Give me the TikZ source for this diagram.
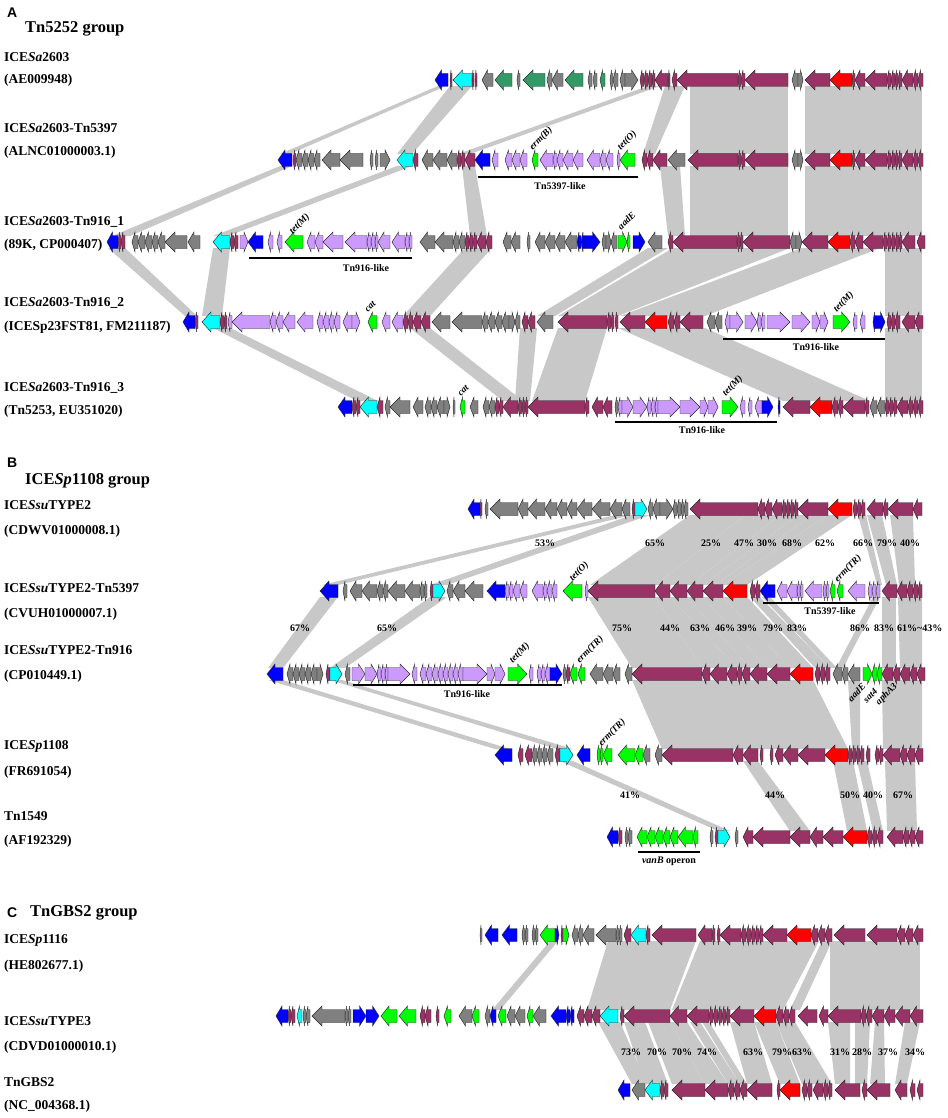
\documentclass[tikz,border=0pt]{standalone}
\usepackage{fontspec}
\setmainfont{Liberation Serif}
\setsansfont{Liberation Sans}
\definecolor{cM}{HTML}{993366}
\definecolor{cG}{HTML}{808080}
\definecolor{cB}{HTML}{0000FF}
\definecolor{cC}{HTML}{00FFFF}
\definecolor{cR}{HTML}{FF0000}
\definecolor{cL}{HTML}{CC99FF}
\definecolor{cE}{HTML}{00FF00}
\definecolor{cD}{HTML}{339966}
\definecolor{bandc}{HTML}{C8C8C8}
\tikzset{
  gene/.style={draw=black!85,line width=0.45pt,line join=miter},
  lab/.style={anchor=west,inner sep=0pt,font=\bfseries\fontsize{13.5}{14}\selectfont},
  grp/.style={anchor=west,inner sep=0pt,font=\bfseries\fontsize{16.5}{17}\selectfont},
  letter/.style={anchor=west,inner sep=0pt,font=\sffamily\bfseries\fontsize{14}{14}\selectfont},
  pct/.style={inner sep=0pt,font=\bfseries\fontsize{10}{10}\selectfont},
  glab/.style={anchor=west,inner sep=0pt,rotate=45,font=\bfseries\itshape\fontsize{9.5}{9.5}\selectfont},
  glabr/.style={anchor=east,inner sep=0pt,rotate=45,font=\bfseries\itshape\fontsize{9.5}{9.5}\selectfont},
  barline/.style={line width=1.3pt,black},
  barlab/.style={inner sep=0pt,font=\bfseries\fontsize{10}{10}\selectfont}
}
\newcommand\gene[5]{%
  \pgfmathsetmacro\hl{min(10,0.5*(#2-#1))}%
  \if#5l%
    \filldraw[gene,fill=c#4] (#2,#3-6.5) -- ({#1+\hl},#3-6.5) -- ({#1+\hl},#3-10) -- (#1,#3) -- ({#1+\hl},#3+10) -- ({#1+\hl},#3+6.5) -- (#2,#3+6.5) -- cycle;
  \else
    \filldraw[gene,fill=c#4] (#1,#3-6.5) -- ({#2-\hl},#3-6.5) -- ({#2-\hl},#3-10) -- (#2,#3) -- ({#2-\hl},#3+10) -- ({#2-\hl},#3+6.5) -- (#1,#3+6.5) -- cycle;
  \fi}
\newcommand\trk[2]{\foreach \a/\b/\c/\d in {#2}{\gene{\a}{\b}{#1}{\c}{\d}}}
\newcommand\bands[3]{\foreach \a/\b/\c/\d in {#3}{\fill[bandc] (\a,#1+6) -- (\b,#1+6) -- (\d,#2-6) -- (\c,#2-6) -- cycle;}}
\begin{document}
\begin{tikzpicture}[x=1pt,y=-1pt]
\useasboundingbox (0,0) rectangle (947,1118);
\fill[white] (0,0) rectangle (947,1118);
% ---------------- bands ----------------
\bands{80}{160}{438/446/280/290, 450/472/397/412, 648/660/458/470, 665/685/643/655, 690/788/690/788, 805/922/805/922}
\bands{160}{242}{280/292/112/130, 397/412/213/228, 462/475/470/487, 660/680/668/685, 690/788/690/788, 805/922/805/922}
\bands{242}{322}{108/125/185/197, 213/230/202/222, 465/492/403/430, 648/668/537/555, 673/790/558/618, 802/880/620/705, 885/922/885/922}
\bands{322}{407}{213/230/357/378, 410/430/503/523, 520/537/515/530, 558/607/532/585, 618/705/783/870, 885/922/885/922}
\bands{509}{591}{615/632/322/338, 632/650/430/447, 690/745/590/655, 745/780/655/690, 780/798/690/703, 798/812/703/715, 812/828/715/723, 828/852/723/747, 858/866/877/882, 867/882/886/897, 890/913/899/915}
\bands{591}{674}{320/338/268/283, 430/447/330/345, 588/655/632/702, 655/670/702/737, 670/687/737/750, 687/703/750/767, 703/723/767/790, 723/747/790/813, 750/760/815/830, 762/770/830/837, 873/880/836/843, 882/896/882/896, 898/922/900/922}
\bands{674}{755}{268/283/495/510, 330/342/557/573, 632/813/662/848, 848/860/852/860, 882/922/883/922}
\bands{755}{837}{560/573/718/730, 743/758/790/810, 833/853/847/867, 857/867/873/883, 885/915/887/917}
\bands{935}{1016}{550/558/492/500, 608/696/587/670, 700/819/672/783, 822/832/790/800, 830/920/830/920}
\bands{1016}{1090}{598/620/632/647, 624/645/645/668, 648/670/672/705, 670/687/705/728, 690/700/728/740, 702/709/740/747, 730/754/747/772, 754/776/780/800, 776/795/802/832, 828/850/835/850, 855/870/855/867, 875/884/870/885, 905/920/895/907}
% ---------------- tracks A ----------------
\trk{80}{435/448/B/l, 450/452/M/l, 453/472/C/l, 472/474/M/l, 475/477/M/l, 482/493/G/l, 495/512/D/l, 517/520/G/l, 523/545/D/l, 547/552/G/l, 552/563/G/l, 565/583/D/l, 588/592/G/l, 593/597/G/l, 600/605/D/l, 610/613/G/l, 613/618/G/l, 620/625/G/l, 625/638/G/r, 640/644/M/l, 644/648/M/l, 648/652/M/l, 652/655/M/l, 655/668/M/l, 668/670/M/l, 672/677/M/l, 677/738/M/l, 738/741/M/l, 741/745/M/l, 745/788/M/l, 792/798/G/l, 798/803/G/r, 805/830/M/l, 830/852/R/l, 852/855/M/l, 855/865/M/l, 865/887/M/l, 887/891/M/l, 891/895/M/l, 895/898/M/l, 898/902/M/l, 902/913/M/l, 913/918/M/l, 918/923/M/l}
\trk{160}{278/292/B/l, 293/296/M/l, 296/302/G/l, 302/308/G/l, 308/314/G/l, 314/320/G/l, 322/340/G/l, 340/363/G/l, 370/373/G/l, 375/378/G/l, 380/390/G/r, 397/413/C/l, 413/418/M/l, 422/433/G/l, 433/447/G/l, 447/457/G/l, 457/461/M/l, 461/465/M/l, 465/475/M/l, 475/490/B/l, 492/498/L/l, 505/512/L/l, 512/520/L/l, 520/527/L/l, 532/538/E/l, 540/553/L/l, 553/557/L/l, 557/563/L/l, 563/573/L/l, 573/583/L/l, 587/600/L/l, 600/606/L/l, 606/613/L/l, 617/620/L/l, 620/635/E/l, 642/647/M/l, 647/653/M/l, 653/667/M/l, 668/685/G/l, 688/738/M/l, 738/741/M/l, 741/745/M/l, 745/788/M/l, 792/798/G/l, 798/803/G/r, 805/830/M/l, 830/852/R/l, 852/855/M/l, 855/865/M/l, 865/887/M/l, 887/891/M/l, 891/895/M/l, 895/898/M/l, 898/902/M/l, 902/913/M/l, 913/918/M/l, 918/923/M/l}
\trk{242}{107/118/B/l, 118/121/M/l, 121/125/M/l, 132/138/G/l, 138/145/G/l, 145/152/G/l, 152/158/G/l, 158/165/G/l, 165/187/G/l, 188/200/G/l, 213/230/C/l, 230/234/M/l, 234/238/M/l, 240/248/L/r, 248/263/B/l, 268/273/L/l, 277/282/L/l, 285/303/E/l, 307/315/L/l, 315/323/L/l, 323/343/L/l, 345/367/L/l, 367/371/L/l, 371/375/L/l, 375/378/L/l, 378/390/L/l, 392/405/L/l, 405/409/L/l, 409/412/L/l, 420/435/G/l, 435/453/G/l, 453/459/G/l, 459/465/G/l, 465/469/M/l, 469/473/M/l, 473/477/M/l, 477/486/M/l, 486/492/M/l, 503/511/G/l, 511/520/G/l, 527/530/G/l, 535/545/G/l, 545/555/G/l, 555/565/G/l, 565/577/G/l, 577/581/B/l, 581/585/B/l, 585/600/B/r, 602/606/G/l, 606/611/G/r, 611/617/G/l, 618/627/E/r, 627/630/E/l, 633/645/B/r, 648/662/G/l, 668/673/M/l, 673/737/M/l, 737/740/M/l, 740/743/M/l, 743/790/M/l, 790/796/G/l, 796/802/G/r, 802/828/M/l, 828/850/R/l, 850/855/M/l, 855/863/M/l, 863/883/M/l, 883/887/M/l, 887/891/M/l, 891/895/M/l, 895/899/M/l, 899/902/M/l, 902/915/M/l, 917/925/M/l}
\trk{322}{183/195/B/l, 195/198/M/l, 202/220/C/l, 220/224/M/l, 224/227/M/l, 228/232/L/l, 232/270/L/l, 270/276/L/l, 276/283/L/l, 283/295/L/l, 297/313/L/l, 317/323/L/l, 323/329/L/l, 329/334/L/l, 334/340/L/l, 343/352/L/l, 352/360/L/r, 368/377/E/l, 382/390/L/l, 392/403/L/l, 403/408/M/l, 408/413/M/l, 413/421/M/l, 421/430/M/l, 432/450/G/l, 452/482/G/l, 482/488/G/l, 488/495/G/l, 495/502/G/l, 502/509/G/l, 509/515/G/r, 515/520/G/l, 522/528/M/l, 528/535/M/l, 537/553/G/l, 558/607/M/l, 607/611/M/l, 611/614/M/l, 615/618/M/l, 620/645/M/l, 645/667/R/l, 668/674/M/l, 674/680/M/l, 680/703/M/l, 707/715/G/l, 715/722/G/l, 725/730/L/l, 730/743/L/r, 745/757/L/r, 757/761/L/l, 761/765/L/l, 767/790/L/r, 792/810/L/r, 812/820/L/r, 820/828/L/r, 833/850/E/r, 853/857/L/l, 860/865/L/l, 873/876/B/l, 876/885/B/r, 887/891/M/l, 891/895/M/l, 895/900/M/l, 902/915/M/l, 915/923/M/l}
\trk{407}{338/352/B/l, 352/356/M/l, 356/360/M/l, 360/377/C/l, 377/383/M/l, 385/390/G/l, 390/410/G/l, 413/423/G/l, 425/431/G/l, 431/437/G/l, 437/444/G/l, 444/450/G/r, 453/455/G/l, 460/465/E/l, 470/478/G/l, 483/489/G/l, 489/495/G/l, 495/499/M/l, 499/503/M/l, 503/518/M/l, 518/522/M/l, 522/525/M/l, 525/528/M/l, 528/585/M/l, 585/589/M/l, 592/603/M/l, 603/612/M/l, 615/618/G/l, 618/622/L/l, 622/633/L/r, 633/647/L/r, 647/651/L/l, 651/655/L/l, 655/658/L/l, 658/680/L/r, 680/700/L/r, 700/708/L/r, 708/718/L/r, 722/738/E/r, 740/745/L/l, 748/752/L/l, 755/762/L/l, 762/773/B/r, 778/780/B/l, 783/810/M/l, 810/832/R/l, 832/838/M/l, 838/843/M/l, 843/865/M/l, 865/869/M/l, 870/877/G/l, 877/885/G/l, 885/889/M/l, 889/893/M/l, 893/897/M/l, 897/908/M/l, 908/913/M/l, 913/918/M/l, 918/923/M/l}
% ---------------- tracks B ----------------
\trk{509}{468/480/B/l, 480/482/M/l, 485/488/G/l, 490/518/G/l, 518/528/G/l, 528/545/G/l, 545/557/G/l, 557/567/G/l, 567/577/G/l, 577/592/G/l, 592/610/G/l, 610/622/G/l, 622/630/G/l, 632/635/M/l, 635/647/C/r, 648/653/G/l, 653/660/G/l, 660/673/G/r, 673/677/G/l, 677/681/G/l, 681/684/G/l, 684/688/G/l, 690/758/M/l, 758/765/M/l, 765/772/M/l, 772/782/M/l, 782/786/M/l, 786/790/M/l, 790/794/M/l, 794/798/M/l, 798/828/M/l, 828/852/R/l, 853/857/M/l, 857/861/M/l, 861/865/M/l, 867/883/M/l, 883/888/M/l, 888/913/M/l, 913/922/M/l}
\trk{591}{320/338/B/l, 343/347/G/l, 350/362/G/l, 362/377/G/l, 377/383/G/l, 383/388/G/l, 388/405/G/l, 405/420/G/l, 420/424/G/l, 424/427/G/l, 430/433/M/l, 433/445/C/r, 447/453/G/l, 453/465/G/l, 465/483/G/l, 487/505/B/l, 505/509/L/l, 509/513/L/l, 513/520/L/l, 520/527/L/l, 532/543/L/l, 543/547/L/l, 547/552/L/l, 552/557/L/l, 563/582/E/l, 585/588/L/l, 588/655/M/l, 655/670/M/l, 670/687/M/l, 687/703/M/l, 703/723/M/l, 723/747/R/l, 750/755/M/l, 755/760/M/l, 760/775/B/l, 777/787/L/l, 787/797/L/l, 797/800/L/l, 800/803/L/l, 805/822/L/l, 823/826/L/l, 826/829/L/l, 830/835/E/l, 837/843/E/l, 848/865/L/l, 868/872/L/l, 872/876/L/l, 876/880/L/l, 882/897/M/l, 897/907/M/l, 907/913/M/l, 913/918/M/l, 918/922/M/l}
\trk{674}{267/283/B/l, 287/293/G/l, 293/299/G/l, 299/305/G/l, 305/311/G/l, 311/317/G/l, 317/323/G/r, 326/330/M/l, 330/342/C/r, 345/350/G/l, 352/365/L/r, 365/377/L/r, 377/381/L/l, 381/385/L/l, 385/388/L/l, 388/410/L/r, 412/417/L/l, 420/426/L/l, 426/432/L/l, 432/438/L/l, 438/443/L/l, 443/448/L/l, 448/453/L/l, 453/458/L/l, 458/463/L/l, 463/487/L/r, 487/495/L/r, 495/505/L/r, 508/527/E/r, 529/533/L/l, 537/541/L/l, 541/545/L/l, 545/550/L/l, 550/562/B/r, 563/566/G/l, 566/570/M/l, 570/577/E/l, 578/585/E/l, 590/603/G/l, 603/613/G/l, 613/620/G/l, 625/632/G/l, 632/702/M/l, 702/710/M/l, 710/727/M/l, 727/737/M/l, 737/742/M/l, 742/750/M/l, 750/767/M/l, 767/790/M/l, 790/813/R/l, 815/820/M/l, 820/825/M/l, 825/830/M/l, 833/842/G/l, 842/848/G/l, 848/860/G/l, 863/872/E/r, 872/877/E/l, 877/882/E/l, 882/893/M/l, 893/900/M/l, 900/910/M/l, 910/917/M/l, 917/925/M/l}
\trk{755}{495/512/B/l, 518/523/M/l, 525/532/M/l, 532/537/G/l, 537/542/G/l, 542/547/G/l, 547/553/G/l, 555/560/M/l, 560/573/C/r, 577/590/B/l, 597/600/E/l, 600/603/E/l, 603/612/E/l, 618/635/E/l, 635/643/E/l, 643/650/G/l, 655/662/G/l, 662/733/M/l, 733/743/M/l, 743/758/M/l, 760/763/M/l, 770/773/M/l, 775/783/M/l, 783/798/M/l, 798/825/M/l, 825/848/R/l, 848/852/M/l, 852/856/M/l, 856/860/M/l, 860/864/M/l, 866/870/M/l, 875/879/M/l, 879/883/M/l, 883/900/M/l, 900/907/M/l, 907/915/M/l, 915/923/M/l}
\trk{837}{607/618/B/l, 618/622/M/l, 625/628/G/l, 628/632/G/l, 637/647/E/l, 647/655/E/l, 655/663/E/l, 663/670/E/l, 670/678/E/l, 678/693/E/l, 693/698/E/l, 710/713/G/l, 715/718/M/l, 718/730/C/r, 735/738/G/l, 743/753/M/l, 753/790/M/l, 790/810/M/l, 810/823/M/l, 823/843/M/l, 843/867/R/l, 867/872/M/l, 872/877/M/l, 877/883/M/l, 887/903/M/l, 903/909/M/l, 909/915/M/l, 915/923/M/l}
% ---------------- tracks C ----------------
\trk{935}{480/482/G/l, 485/498/B/l, 502/517/B/l, 522/525/G/l, 525/528/G/l, 532/535/G/l, 535/538/G/l, 540/555/E/l, 555/559/B/r, 561/563/M/l, 563/569/E/r, 572/578/G/l, 578/583/G/l, 583/594/G/l, 596/616/G/l, 616/619/G/l, 619/622/G/l, 624/631/M/l, 631/646/C/l, 646/650/M/l, 652/696/M/l, 698/712/M/l, 712/715/M/l, 717/720/M/l, 720/741/M/l, 741/746/M/l, 746/751/M/l, 751/755/M/l, 755/759/M/l, 759/763/M/l, 763/787/M/l, 787/811/R/l, 811/818/M/l, 818/825/M/l, 825/832/M/l, 834/865/M/l, 867/897/M/l, 897/905/M/l, 905/913/M/l, 913/923/M/l}
\trk{1016}{276/288/B/l, 288/291/M/l, 291/295/M/l, 297/302/C/l, 303/306/G/l, 306/310/G/l, 312/345/G/l, 345/348/G/l, 348/351/G/l, 353/366/B/r, 366/379/B/r, 381/397/E/l, 399/416/E/l, 420/425/M/l, 425/431/M/l, 436/439/M/l, 444/451/E/l, 459/472/G/l, 472/479/E/l, 485/490/G/l, 490/496/B/l, 498/506/E/l, 507/515/G/l, 515/525/G/l, 527/533/E/l, 533/546/G/l, 551/566/B/l, 566/570/B/l, 570/574/B/l, 577/584/M/l, 584/592/M/l, 592/600/M/l, 600/618/C/l, 620/624/M/l, 624/670/M/l, 670/687/M/l, 687/709/M/l, 709/713/M/l, 713/718/M/l, 718/722/M/l, 722/726/M/l, 726/730/M/l, 730/754/M/l, 754/776/R/l, 776/783/M/l, 783/789/M/l, 789/795/M/l, 798/817/M/l, 819/828/M/l, 828/861/M/l, 861/866/M/l, 866/872/M/l, 872/884/M/l, 884/895/M/l, 895/910/M/l, 910/923/M/l}
\trk{1090}{618/630/B/l, 632/645/G/l, 645/660/C/l, 660/664/M/l, 664/668/M/l, 672/705/M/l, 705/728/M/l, 728/734/M/l, 734/740/M/l, 740/747/M/l, 747/772/M/l, 777/780/M/l, 780/800/R/l, 802/807/M/l, 807/812/M/l, 813/823/M/l, 823/828/M/l, 828/832/M/l, 835/860/M/l, 862/867/M/l, 867/890/M/l, 895/907/M/l, 910/915/M/l, 917/923/M/l}
% ---------------- bars ----------------
\coordinate (b1a) at (478,177); \coordinate (b1b) at (638,177);
\draw[barline] (b1a) -- (b1b);
\node[barlab] (bl1) at (560,186) {Tn5397-like};
\coordinate (b2a) at (249,258); \coordinate (b2b) at (412,258);
\draw[barline] (b2a) -- (b2b);
\node[barlab] (bl2) at (366,268) {Tn916-like};
\coordinate (b3a) at (723,339); \coordinate (b3b) at (885,339);
\draw[barline] (b3a) -- (b3b);
\node[barlab] (bl3) at (816,347) {Tn916-like};
\coordinate (b4a) at (615,422); \coordinate (b4b) at (777,422);
\draw[barline] (b4a) -- (b4b);
\node[barlab] (bl4) at (702,430) {Tn916-like};
\coordinate (b5a) at (763,603); \coordinate (b5b) at (879,603);
\draw[barline] (b5a) -- (b5b);
\node[barlab] (bl5) at (830,611) {Tn5397-like};
\coordinate (b6a) at (353,685); \coordinate (b6b) at (562,685);
\draw[barline] (b6a) -- (b6b);
\node[barlab] (bl6) at (467,694) {Tn916-like};
\coordinate (b7a) at (638,852); \coordinate (b7b) at (700,852);
\draw[barline] (b7a) -- (b7b);
\node[barlab] (bl7) at (669,861) {\textit{vanB} operon};
% ---------------- gene labels ----------------
\node[glab] (g1) at (531,149) {erm(B)};
\node[glab] (g2) at (619,149) {tet(O)};
\node[glab] (g3) at (291,233) {tet(M)};
\node[glab] (g4) at (619,228) {aadE};
\node[glab] (g5) at (366,311) {cat};
\node[glab] (g6) at (835,311) {tet(M)};
\node[glab] (g7) at (459,395) {cat};
\node[glab] (g8) at (724,395) {tet(M)};
\node[glab] (g9) at (571,580) {tet(O)};
\node[glab] (g10) at (836,581) {erm(TR)};
\node[glab] (g11) at (511,662) {tet(M)};
\node[glab] (g12) at (578,662) {erm(TR)};
\node[glab] (g13) at (600,745) {erm(TR)};
\node[glabr] (g14) at (864,685) {aadE};
\node[glabr] (g15) at (876,690) {sat4};
\node[glabr] (g16) at (896,685) {aphA3};
% ---------------- percentages ----------------
\foreach \x/\t [count=\i] in {545/53\%, 655/65\%, 711/25\%, 744/47\%, 767/30\%, 792/68\%, 825/62\%, 863/66\%, 887/79\%, 910/40\%}
  {\node[pct] (p1\i) at (\x,543) {\t};}
\foreach \x/\t [count=\i] in {300/67\%, 387/65\%, 622/75\%, 670/44\%, 700/63\%, 725/46\%, 747/39\%, 773/79\%, 797/83\%, 860/86\%, 884/83\%}
  {\node[pct] (p2\i) at (\x,628) {\t};}
\node[pct,anchor=west] (p2x) at (897,628) {61\%\textasciitilde43\%};
\foreach \x/\t [count=\i] in {630/41\%, 775/44\%, 850/50\%, 873/40\%, 903/67\%}
  {\node[pct] (p3\i) at (\x,795) {\t};}
\foreach \x/\t [count=\i] in {631/73\%, 657/70\%, 682/70\%, 707/74\%, 753/63\%, 782/79\%, 802/63\%, 840/31\%, 862/28\%, 888/37\%, 915/34\%}
  {\node[pct] (p4\i) at (\x,1052) {\t};}
% ---------------- left labels ----------------
\node[letter] (LA) at (7,13) {A};
\node[grp] (GA) at (25,29) {Tn5252 group};
\node[lab] (a1) at (4,57) {ICE\textit{Sa}2603};
\node[lab] (a1b) at (4,80) {(AE009948)};
\node[lab] (a2) at (4,128) {ICE\textit{Sa}2603-Tn5397};
\node[lab] (a2b) at (4,152) {(ALNC01000003.1)};
\node[lab] (a3) at (4,222) {ICE\textit{Sa}2603-Tn916\_1};
\node[lab] (a3b) at (4,245) {(89K, CP000407)};
\node[lab] (a4) at (4,303) {ICE\textit{Sa}2603-Tn916\_2};
\node[lab] (a4b) at (4,327) {(ICESp23FST81, FM211187)};
\node[lab] (a5) at (4,388) {ICE\textit{Sa}2603-Tn916\_3};
\node[lab] (a5b) at (4,411) {(Tn5253, EU351020)};
\node[letter] (LB) at (7,463) {B};
\node[grp] (GB) at (25,481) {ICE\textit{Sp}1108 group};
\node[lab] (b1) at (4,505) {ICE\textit{Ssu}TYPE2};
\node[lab] (b1b) at (4,531) {(CDWV01000008.1)};
\node[lab] (b2) at (4,588) {ICE\textit{Ssu}TYPE2-Tn5397};
\node[lab] (b2b) at (4,614) {(CVUH01000007.1)};
\node[lab] (b3) at (4,650) {ICE\textit{Ssu}TYPE2-Tn916};
\node[lab] (b3b) at (4,676) {(CP010449.1)};
\node[lab] (b4) at (4,746) {ICE\textit{Sp}1108};
\node[lab] (b4b) at (4,772) {(FR691054)};
\node[lab] (b5) at (4,816) {Tn1549};
\node[lab] (b5b) at (4,841) {(AF192329)};
\node[letter] (LC) at (7,913) {C};
\node[grp] (GC) at (30,913) {TnGBS2 group};
\node[lab] (c1) at (4,940) {ICE\textit{Sp}1116};
\node[lab] (c1b) at (4,966) {(HE802677.1)};
\node[lab] (c2) at (4,1021) {ICE\textit{Ssu}TYPE3};
\node[lab] (c2b) at (4,1047) {(CDVD01000010.1)};
\node[lab] (c3) at (4,1082) {TnGBS2};
\node[lab] (c3b) at (4,1106) {(NC\_004368.1)};
\end{tikzpicture}
\end{document}
